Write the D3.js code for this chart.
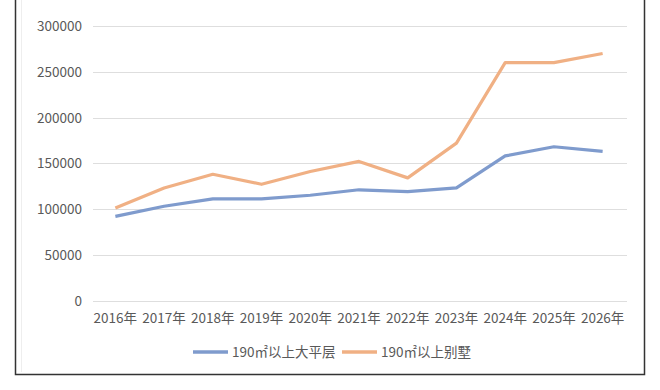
<!DOCTYPE html>
<html>
<head>
<meta charset="utf-8">
<script src="https://cdn.jsdelivr.net/npm/d3@7"></script>
<style>
  body { margin: 0; background: #fff; }
  svg { display: block; font-family: "Noto Sans CJK SC", "Noto Sans", sans-serif; }
</style>
</head>
<body>
<svg id="chart"></svg>
<script>
// data
const years = ['2016年', '2017年', '2018年', '2019年', '2020年', '2021年', '2022年', '2023年', '2024年', '2025年', '2026年'];
const flatValues = [92000, 103000, 111000, 111000, 115000, 121000, 119000, 123000, 158000, 168000, 163000];
const villaValues = [101000, 123000, 138000, 127000, 141000, 152000, 134000, 172000, 260000, 260000, 270000];
const yTicks = [0, 50000, 100000, 150000, 200000, 250000, 300000];
const seriesNames = ['190㎡以上大平层', '190㎡以上别墅'];
const colors = ['#7f9bcd', '#f0b084'];

const width = 660, height = 390;
const svg = d3.select('#chart').attr('width', width).attr('height', height);

// frame of the chart box (top is cut off)
svg.append('path')
    .attr('d', 'M15.5,0 V374.5 H644.5 V0')
    .attr('fill', 'none')
    .attr('stroke', '#333')
    .attr('stroke-width', 1.5);
svg.append('line')
    .attr('x1', 21.5).attr('x2', 21.5).attr('y1', 0).attr('y2', 372)
    .attr('stroke', '#eee');

const x = d3.scaleBand().domain(years).range([91, 627]);
const y = d3.scaleLinear().domain([0, 300000]).range([300.5, 26]);

// gridlines
svg.append('g')
    .selectAll('line')
    .data(yTicks)
    .enter().append('line')
    .attr('x1', 93).attr('x2', 627)
    .attr('y1', d => Math.round(y(d)) + 0.5)
    .attr('y2', d => Math.round(y(d)) + 0.5)
    .attr('stroke', '#dedede')
    .attr('stroke-width', 1);

// y labels
svg.append('g')
    .selectAll('text')
    .data(yTicks)
    .enter().append('text')
    .attr('x', 82)
    .attr('y', d => y(d) + 5)
    .attr('text-anchor', 'end')
    .style('font-size', '13.5px')
    .style('fill', '#595959')
    .text(d => d);

// x labels
svg.append('g')
    .selectAll('text')
    .data(years)
    .enter().append('text')
    .attr('x', d => x(d) + x.bandwidth() / 2)
    .attr('y', 323)
    .attr('text-anchor', 'middle')
    .style('font-size', '13.5px')
    .style('fill', '#595959')
    .text(d => d);

// lines
const line = d3.line()
    .x((d, i) => x(years[i]) + x.bandwidth() / 2)
    .y(d => y(d));

[flatValues, villaValues].forEach(function (vals, k) {
    svg.append('path')
        .datum(vals)
        .attr('d', line)
        .attr('fill', 'none')
        .attr('stroke', colors[k])
        .attr('stroke-width', 3.2)
        .attr('stroke-linejoin', 'round');
});

// legend
const legendItems = [
    { x: 193, name: seriesNames[0], color: colors[0] },
    { x: 342, name: seriesNames[1], color: colors[1] }
];
const legend = svg.append('g')
    .selectAll('g')
    .data(legendItems)
    .enter().append('g')
    .attr('transform', d => `translate(${d.x}, 352)`);

legend.append('line')
    .attr('x1', 0).attr('x2', 35)
    .attr('y1', 0).attr('y2', 0)
    .attr('stroke', d => d.color)
    .attr('stroke-width', 3.5);

legend.append('text')
    .attr('x', 39)
    .attr('y', 5)
    .style('font-size', '13.5px')
    .style('fill', '#595959')
    .text(d => d.name);
</script>
</body>
</html>
